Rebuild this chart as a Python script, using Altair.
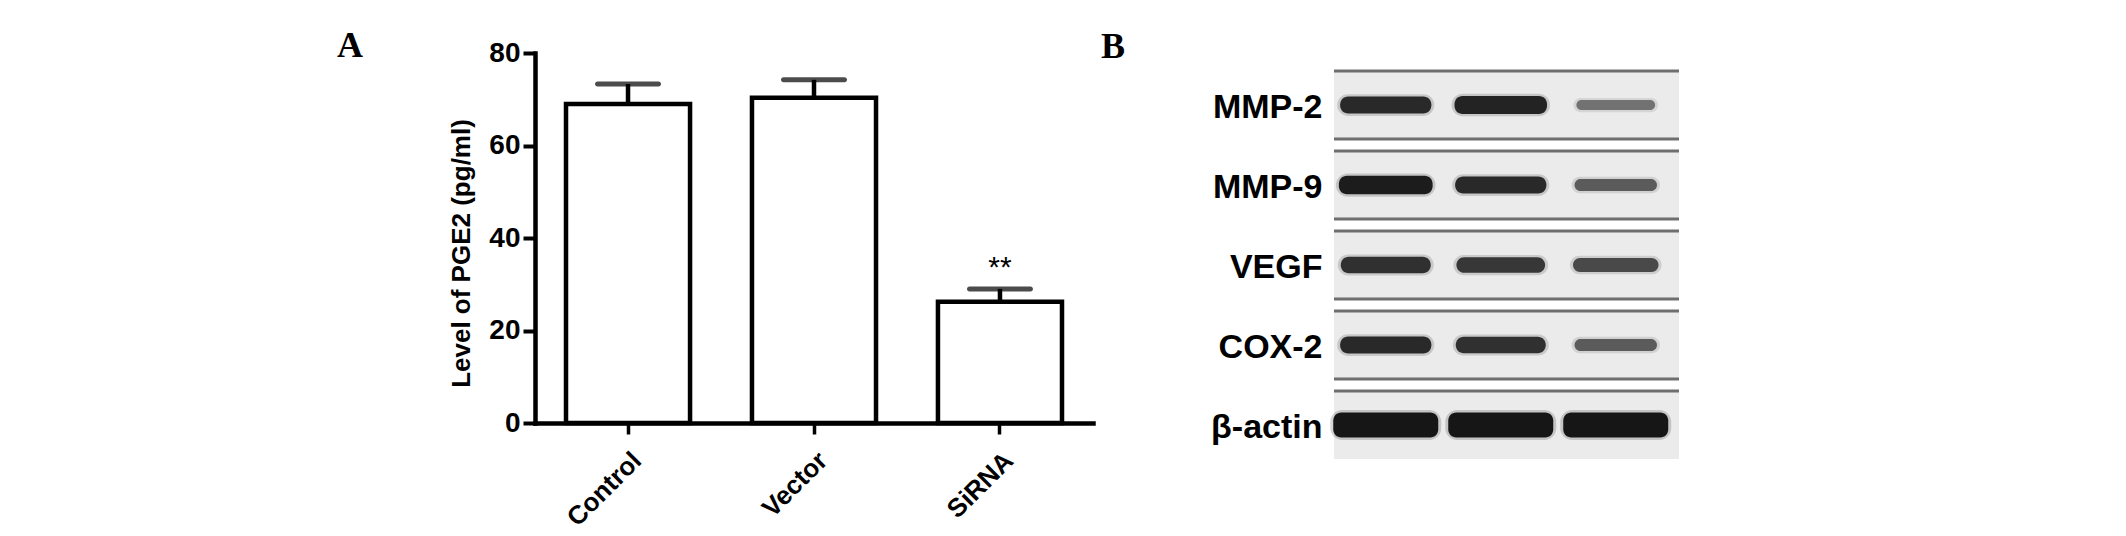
import altair as alt
import pandas as pd

# ---------------- Panel A data ----------------
groups = ["Control", "Vector", "SiRNA"]
means = [69.0, 70.3, 26.2]
errors = [4.3, 3.9, 2.8]
sig_marks = ["", "", "**"]
y_ticks = [0, 20, 40, 60, 80]

# ---------------- Panel B data ----------------
proteins = ["MMP-2", "MMP-9", "VEGF", "COX-2", "β-actin"]
lanes = [1, 2, 3]
# relative band density read from the blot (lanes 1-3)
dens_mmp2 = [0.85, 0.9, 0.35]
dens_mmp9 = [0.95, 0.85, 0.5]
dens_vegf = [0.8, 0.75, 0.62]
dens_cox2 = [0.85, 0.8, 0.5]
dens_actin = [1.4, 1.4, 1.4]

FONT = "Liberation Sans"
SERIF = "Liberation Serif"

dfA = pd.DataFrame({"group": groups, "mean": means, "err": errors, "mark": sig_marks})
dfA["upper"] = dfA["mean"] + dfA["err"]

W_A, H_A = 558, 370

x_enc = alt.X(
    "group:N",
    sort=groups,
    scale=alt.Scale(paddingInner=0.333, paddingOuter=0.1667),
    axis=alt.Axis(
        title=None, labelAngle=-45, labelAlign="right", labelBaseline="top",
        labelFont=FONT, labelFontSize=26, labelFontWeight="bold", labelColor="black",
        labelPadding=13, tickSize=11, tickWidth=3.5, tickColor="black",
        domainColor="black", domainWidth=4.5, domainCap="square", labelLimit=0,
    ),
)
y_scale = alt.Scale(domain=[0, 80], nice=False)
y_axis = alt.Axis(
    values=y_ticks, grid=False, labelFont=FONT, labelFontSize=28, labelFontWeight="bold",
    labelColor="black", labelPadding=3, tickSize=12, tickWidth=4, tickColor="black",
    domainColor="black", domainWidth=4.5, domainCap="square",
    titleFont=FONT, titleFontSize=26, titleFontWeight="bold", titleColor="black",
    titlePadding=14, titleY=200,
)

baseA = alt.Chart(dfA)
bars = baseA.mark_bar(fill="white", stroke="black", strokeWidth=4.5).encode(
    x=x_enc,
    y=alt.Y("mean:Q", scale=y_scale, axis=y_axis, title="Level of PGE2  (pg/ml)"),
)
err_rule = baseA.mark_rule(color="black", strokeWidth=4.5).encode(
    x=alt.X("group:N", sort=groups), y="mean:Q", y2="upper:Q"
)
err_cap = baseA.mark_tick(color="black", thickness=5, size=66, cornerRadius=2.5).encode(
    x=alt.X("group:N", sort=groups), y="upper:Q"
)
stars = baseA.mark_text(font=FONT, fontSize=30, baseline="alphabetic", dy=-12, color="black").encode(
    x=alt.X("group:N", sort=groups), y="upper:Q", text="mark:N"
)
letterA = alt.Chart(pd.DataFrame({"t": ["A"]})).mark_text(
    font=SERIF, fontSize=36, fontWeight="bold", align="center", baseline="alphabetic", color="black"
).encode(text="t:N", x=alt.value(-185), y=alt.value(4))

chartA = alt.layer(bars, err_rule, err_cap, stars, letterA).properties(width=W_A, height=H_A)

# ---------------- Panel B ----------------
rows = []
for p, dl in zip(proteins, [dens_mmp2, dens_mmp9, dens_vegf, dens_cox2, dens_actin]):
    for ln, d in zip(lanes, dl):
        rows.append({"protein": p, "lane": ln, "d": d})
dfB = pd.DataFrame(rows)
dfStrip = pd.DataFrame({"protein": proteins, "bottom": [1, 1, 1, 1, 0]})

W_B, H_B = 345, 406
yB_scale = alt.Scale(domain=proteins, range=[18, 406], paddingInner=0.15, paddingOuter=0)
yB_axis = alt.Axis(
    title=None, domain=False, ticks=False, tickSize=0, labelFont=FONT, labelFontSize=34,
    labelFontWeight="bold", labelColor="black", labelPadding=12, labelLimit=0, labelOffset=3,
)
yB = alt.Y("protein:N", sort=proteins, scale=yB_scale, axis=yB_axis)
xB_scale = alt.Scale(domain=[0.55, 3.55])
band_colors = alt.Scale(domain=[0.2, 1.0], range=["#8a8a8a", "#161616"], clamp=True)

strip = alt.Chart(dfStrip).mark_rect(fill="#ebebeb").encode(
    y=yB, x=alt.value(0), x2=alt.value(W_B),
)
top_line = alt.Chart(dfStrip).mark_rule(color="#6e6e6e", strokeWidth=3).encode(
    y=alt.Y("protein:N", sort=proteins, scale=yB_scale, axis=yB_axis, bandPosition=0),
    x=alt.value(0), x2=alt.value(W_B),
)
bottom_line = alt.Chart(dfStrip).transform_filter("datum.bottom == 1").mark_rule(
    color="#6e6e6e", strokeWidth=3
).encode(
    y=alt.Y("protein:N", sort=proteins, scale=yB_scale, axis=yB_axis, bandPosition=1),
    x=alt.value(0), x2=alt.value(W_B),
)
band_base = alt.Chart(dfB).transform_calculate(
    x1="datum.lane - (70 + 25 * datum.d) / 230",
    x2="datum.lane + (70 + 25 * datum.d) / 230",
    h1="datum.lane - (76 + 25 * datum.d) / 230",
    h2="datum.lane + (76 + 25 * datum.d) / 230",
)
halo = band_base.mark_bar(cornerRadius=12, orient="horizontal", opacity=0.18).encode(
    y=yB,
    x=alt.X("h1:Q", scale=xB_scale, axis=None),
    x2="h2:Q",
    color=alt.Color("d:Q", scale=band_colors, legend=None),
    size=alt.Size("d:Q", scale=alt.Scale(domain=[0, 1.4], range=[9, 30]), legend=None),
)
bands = band_base.mark_bar(cornerRadius=8, orient="horizontal").encode(
    y=yB,
    x=alt.X("x1:Q", scale=xB_scale, axis=None),
    x2="x2:Q",
    color=alt.Color("d:Q", scale=band_colors, legend=None),
    size=alt.Size("d:Q", scale=alt.Scale(domain=[0, 1.4], range=[5, 25]), legend=None),
)
letterB = alt.Chart(pd.DataFrame({"t": ["B"]})).mark_text(
    font=SERIF, fontSize=36, fontWeight="bold", align="center", baseline="alphabetic", color="black"
).encode(text="t:N", x=alt.value(-221), y=alt.value(5))

chartB = alt.layer(strip, top_line, bottom_line, halo, bands, letterB).resolve_scale(size="independent").properties(
    width=W_B, height=H_B
)

chart = alt.hconcat(chartA, chartB, spacing=7).properties(
    padding={"left": 329, "top": 20, "right": 10, "bottom": 5}
).configure_view(stroke=None)

chart.save("out.html", embed_options={"renderer": "svg", "actions": False})
